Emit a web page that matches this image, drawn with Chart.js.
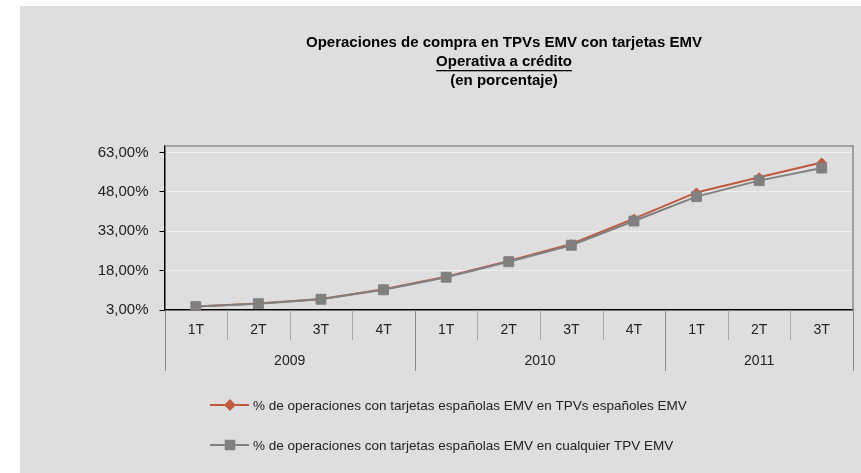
<!DOCTYPE html>
<html>
<head>
<meta charset="utf-8">
<script src="https://cdn.jsdelivr.net/npm/chart.js@4"></script>
<style>
    body { margin: 0; background: #fff; }
    #wrap { position: absolute; left: 20px; top: 6px; width: 841px; height: 467px; background: #dedede; }
</style>
</head>
<body>
<div id="wrap"><canvas id="chart" width="841" height="467"></canvas></div>
<script>
// Chart data
const quarters = ['1T', '2T', '3T', '4T', '1T', '2T', '3T', '4T', '1T', '2T', '3T'];
const years = ['2009', '2010', '2011'];
const quartersPerYear = [4, 4, 3];
const seriesNames = [
    '% de operaciones con tarjetas españolas EMV en TPVs españoles EMV',
    '% de operaciones con tarjetas españolas EMV en cualquier TPV EMV'
];
const tpvEspanoles = [4.3, 5.5, 7.2, 10.9, 15.7, 21.7, 28.2, 37.8, 47.8, 53.6, 59.2];
const cualquierTpv = [4.3, 5.4, 7.1, 10.7, 15.5, 21.4, 27.7, 36.9, 46.2, 52.3, 57.1];
const yTicks = [3, 18, 33, 48, 63];
const titleLines = ['Operaciones de compra en TPVs EMV con tarjetas EMV', 'Operativa a crédito', '(en porcentaje)'];

const redColor = '#c05a3e';
const grayColor = '#808080';
const fontName = '"Liberation Sans", Arial, sans-serif';

// Extra drawing: title, frame, two-level category axis, legend
const decorPlugin = {
    id: 'decor',
    beforeDatasetsDraw(chart) {
        const ctx = chart.ctx;
        const a = chart.chartArea;
        ctx.save();
        ctx.strokeStyle = '#8a8a8a';
        ctx.lineWidth = 1.5;
        ctx.beginPath();
        ctx.moveTo(a.left, a.top);
        ctx.lineTo(a.right, a.top);
        ctx.lineTo(a.right, a.bottom);
        ctx.stroke();
        ctx.restore();
    },
    afterDraw(chart) {
        const ctx = chart.ctx;
        const a = chart.chartArea;
        const xs = chart.scales.x;
        ctx.save();

        // title
        ctx.fillStyle = '#000';
        ctx.textAlign = 'center';
        ctx.textBaseline = 'middle';
        ctx.font = 'bold 15px ' + fontName;
        const cx = 484;
        const ty = [37, 56, 75];
        titleLines.forEach((t, i) => ctx.fillText(t, cx, ty[i]));
        const w = ctx.measureText(titleLines[1]).width;
        ctx.fillRect(cx - w / 2, ty[1] + 8, w, 1.3);

        // category separators
        const half = (xs.getPixelForValue(1) - xs.getPixelForValue(0)) / 2;
        const bounds = [0];
        quartersPerYear.reduce((s, n) => { bounds.push(s + n); return s + n; }, 0);
        for (let i = 0; i <= quarters.length; i++) {
            const x = Math.round(xs.getPixelForValue(i) - half) + 0.5;
            const isYear = bounds.includes(i);
            ctx.strokeStyle = isYear ? '#8a8a8a' : '#a8a8a8';
            ctx.lineWidth = 1;
            ctx.beginPath();
            ctx.moveTo(x, a.bottom);
            ctx.lineTo(x, isYear ? a.bottom + 61 : a.bottom + 30);
            ctx.stroke();
        }

        // year labels
        ctx.fillStyle = '#222';
        ctx.font = '14px ' + fontName;
        years.forEach((y, i) => {
            const x0 = xs.getPixelForValue(bounds[i]) - half;
            const x1 = xs.getPixelForValue(bounds[i + 1]) - half;
            ctx.fillText(y, (x0 + x1) / 2, a.bottom + 51);
        });

        // legend
        const colors = [redColor, grayColor];
        const styles = ['rectRot', 'rect'];
        const rows = [399, 439];
        ctx.textAlign = 'left';
        ctx.font = '13.5px ' + fontName;
        seriesNames.forEach((name, i) => {
            ctx.strokeStyle = colors[i];
            ctx.fillStyle = colors[i];
            ctx.lineWidth = 2;
            ctx.beginPath();
            ctx.moveTo(190, rows[i]);
            ctx.lineTo(229, rows[i]);
            ctx.stroke();
            Chart.helpers.drawPoint(ctx, { pointStyle: styles[i], radius: i === 0 ? 4.5 : 6, borderWidth: 1 }, 210, rows[i]);
            ctx.fillStyle = '#222';
            ctx.fillText(name, 233, rows[i] + 1);
        });
        ctx.restore();
    }
};

const ctx = document.getElementById('chart').getContext('2d');
new Chart(ctx, {
    type: 'line',
    data: {
        labels: quarters,
        datasets: [
            {
                label: seriesNames[0],
                data: tpvEspanoles,
                borderColor: redColor,
                backgroundColor: redColor,
                borderWidth: 2,
                pointStyle: 'rectRot',
                pointRadius: 4.5,
                pointBorderWidth: 1,
                tension: 0,
                order: 1
            },
            {
                label: seriesNames[1],
                data: cualquierTpv,
                borderColor: grayColor,
                backgroundColor: grayColor,
                borderWidth: 2,
                pointStyle: 'rect',
                pointRadius: 7,
                pointBorderWidth: 1,
                tension: 0,
                order: 0
            }
        ]
    },
    options: {
        responsive: false,
        animation: false,
        layout: { padding: { top: 140, left: 0, right: 6, bottom: 103 } },
        plugins: {
            legend: { display: false },
            tooltip: { enabled: false }
        },
        scales: {
            x: {
                offset: true,
                grid: { display: false, drawTicks: false },
                border: { display: true, color: '#000', width: 1.5 },
                ticks: { color: '#222', padding: 12, font: { family: fontName, size: 14 } },
                afterFit(scale) { scale.height = 60; }
            },
            y: {
                min: 3,
                max: 65.5,
                afterBuildTicks(scale) { scale.ticks = yTicks.map(v => ({ value: v })); },
                grid: { color: '#efefef', lineWidth: 1, tickLength: 5, tickColor: '#000' },
                border: { display: true, color: '#000', width: 1.5 },
                ticks: {
                    color: '#222',
                    padding: 11,
                    font: { family: fontName, size: 15 },
                    callback: v => v.toFixed(2).replace('.', ',') + '%'
                },
                afterFit(scale) { scale.width = 144.5; }
            }
        }
    },
    plugins: [decorPlugin]
});
</script>
</body>
</html>
